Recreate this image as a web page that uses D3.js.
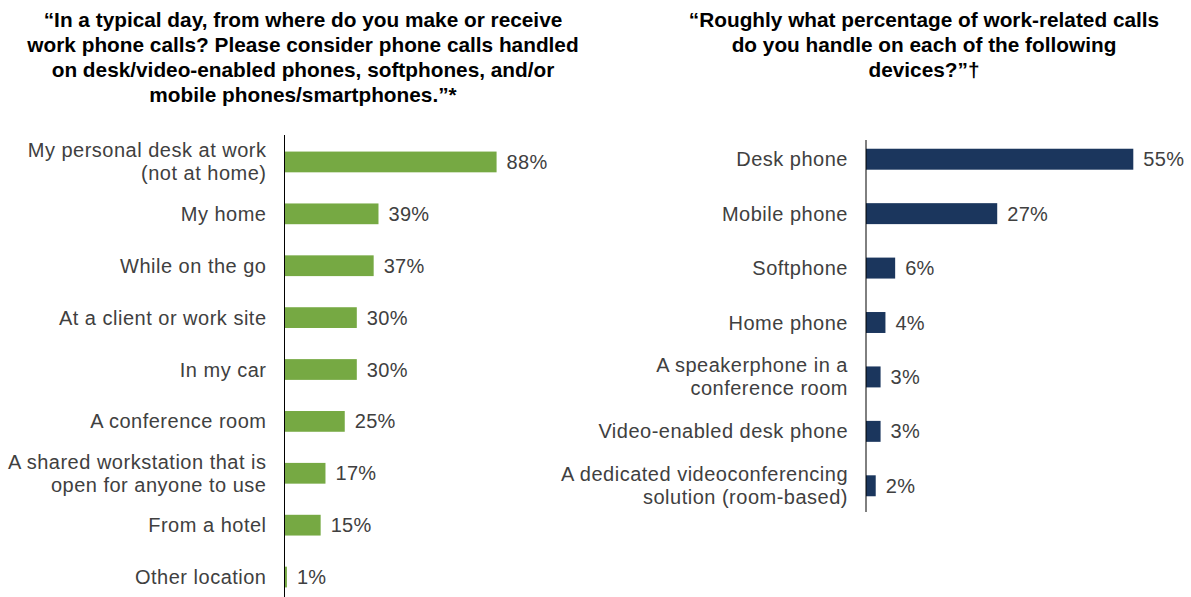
<!DOCTYPE html>
<html><head><meta charset="utf-8">
<script src="https://cdn.jsdelivr.net/npm/d3@7"></script>
<style>body{margin:0;background:#fff;} text{font-family:"Liberation Sans",Arial,sans-serif;}</style>
</head><body>
<svg id="chart" width="1191" height="597"></svg>
<script>
const leftCategories = [["My personal desk at work","(not at home)"],["My home"],["While on the go"],["At a client or work site"],["In my car"],["A conference room"],["A shared workstation that is","open for anyone to use"],["From a hotel"],["Other location"]];
const leftValues = [88,39,37,30,30,25,17,15,1];
const leftTitle = ["“In a typical day, from where do you make or receive","work phone calls? Please consider phone calls handled","on desk/video-enabled phones, softphones, and/or","mobile phones/smartphones.”*"];
const rightCategories = [["Desk phone"],["Mobile phone"],["Softphone"],["Home phone"],["A speakerphone in a","conference room"],["Video-enabled desk phone"],["A dedicated videoconferencing","solution (room-based)"]];
const rightValues = [55,27,6,4,3,3,2];
const rightTitle = ["“Roughly what percentage of work-related calls","do you handle on each of the following","devices?”†"];

const svg = d3.select("#chart");
const FS = 20;

function panel(cfg){
  const g = svg.append("g");
  const t = g.append("text").attr("text-anchor","middle").attr("font-weight","bold")
    .attr("font-size",cfg.titleSize).attr("fill","#000");
  cfg.title.forEach((l,i)=>{
    t.append("tspan").attr("x",cfg.titleX).attr("y",cfg.titleY+i*25).text(l);
  });
  const x = d3.scaleLinear().domain([0,100]).range([cfg.x0, cfg.x0+cfg.pxPer*100]);
  const y = d3.scaleBand().domain(d3.range(cfg.values.length)).range([cfg.yTop,cfg.yBot]).paddingInner(cfg.pad).paddingOuter(cfg.pad/2);
  g.selectAll("rect").data(cfg.values).join("rect")
    .attr("x",x(0)).attr("y",(d,i)=>y(i)).attr("width",d=>x(d)-x(0)).attr("height",y.bandwidth())
    .attr("fill",cfg.color);
  g.selectAll("text.val").data(cfg.values).join("text").attr("class","val")
    .attr("x",d=>x(d)+10).attr("y",(d,i)=>y(i)+y.bandwidth()/2).attr("dy","0.35em")
    .attr("font-size",FS).attr("fill","#404040").attr("letter-spacing",0.3).text(d=>d+"%");
  g.selectAll("text.cat").data(cfg.cats).join("text").attr("class","cat")
    .attr("text-anchor","end").attr("font-size",FS).attr("fill","#404040").attr("letter-spacing",0.5)
    .each(function(d,i){
      const el = d3.select(this);
      const cy = y(i)+y.bandwidth()/2;
      const lh = 23;
      d.forEach((l,j)=>{
        el.append("tspan").attr("x",cfg.x0-18).attr("y",cy+(j-(d.length-1)/2)*lh).attr("dy","0.35em").text(l);
      });
    });
  g.append("line").attr("x1",cfg.x0).attr("x2",cfg.x0).attr("y1",cfg.axisTop).attr("y2",cfg.axisBot)
    .attr("stroke","#000").attr("stroke-width",1);
}

panel({title:leftTitle,titleX:303,titleY:27,titleSize:20.8,x0:284.5,pxPer:2.41,
  yTop:136,yBot:603,pad:0.6,values:leftValues,cats:leftCategories,color:"#76A943",axisTop:135,axisBot:597});
panel({title:rightTitle,titleX:924,titleY:27,titleSize:20.8,x0:866,pxPer:4.86,
  yTop:132,yBot:513,pad:0.615,values:rightValues,cats:rightCategories,color:"#1B365D",axisTop:140,axisBot:512});
</script>
</body></html>
